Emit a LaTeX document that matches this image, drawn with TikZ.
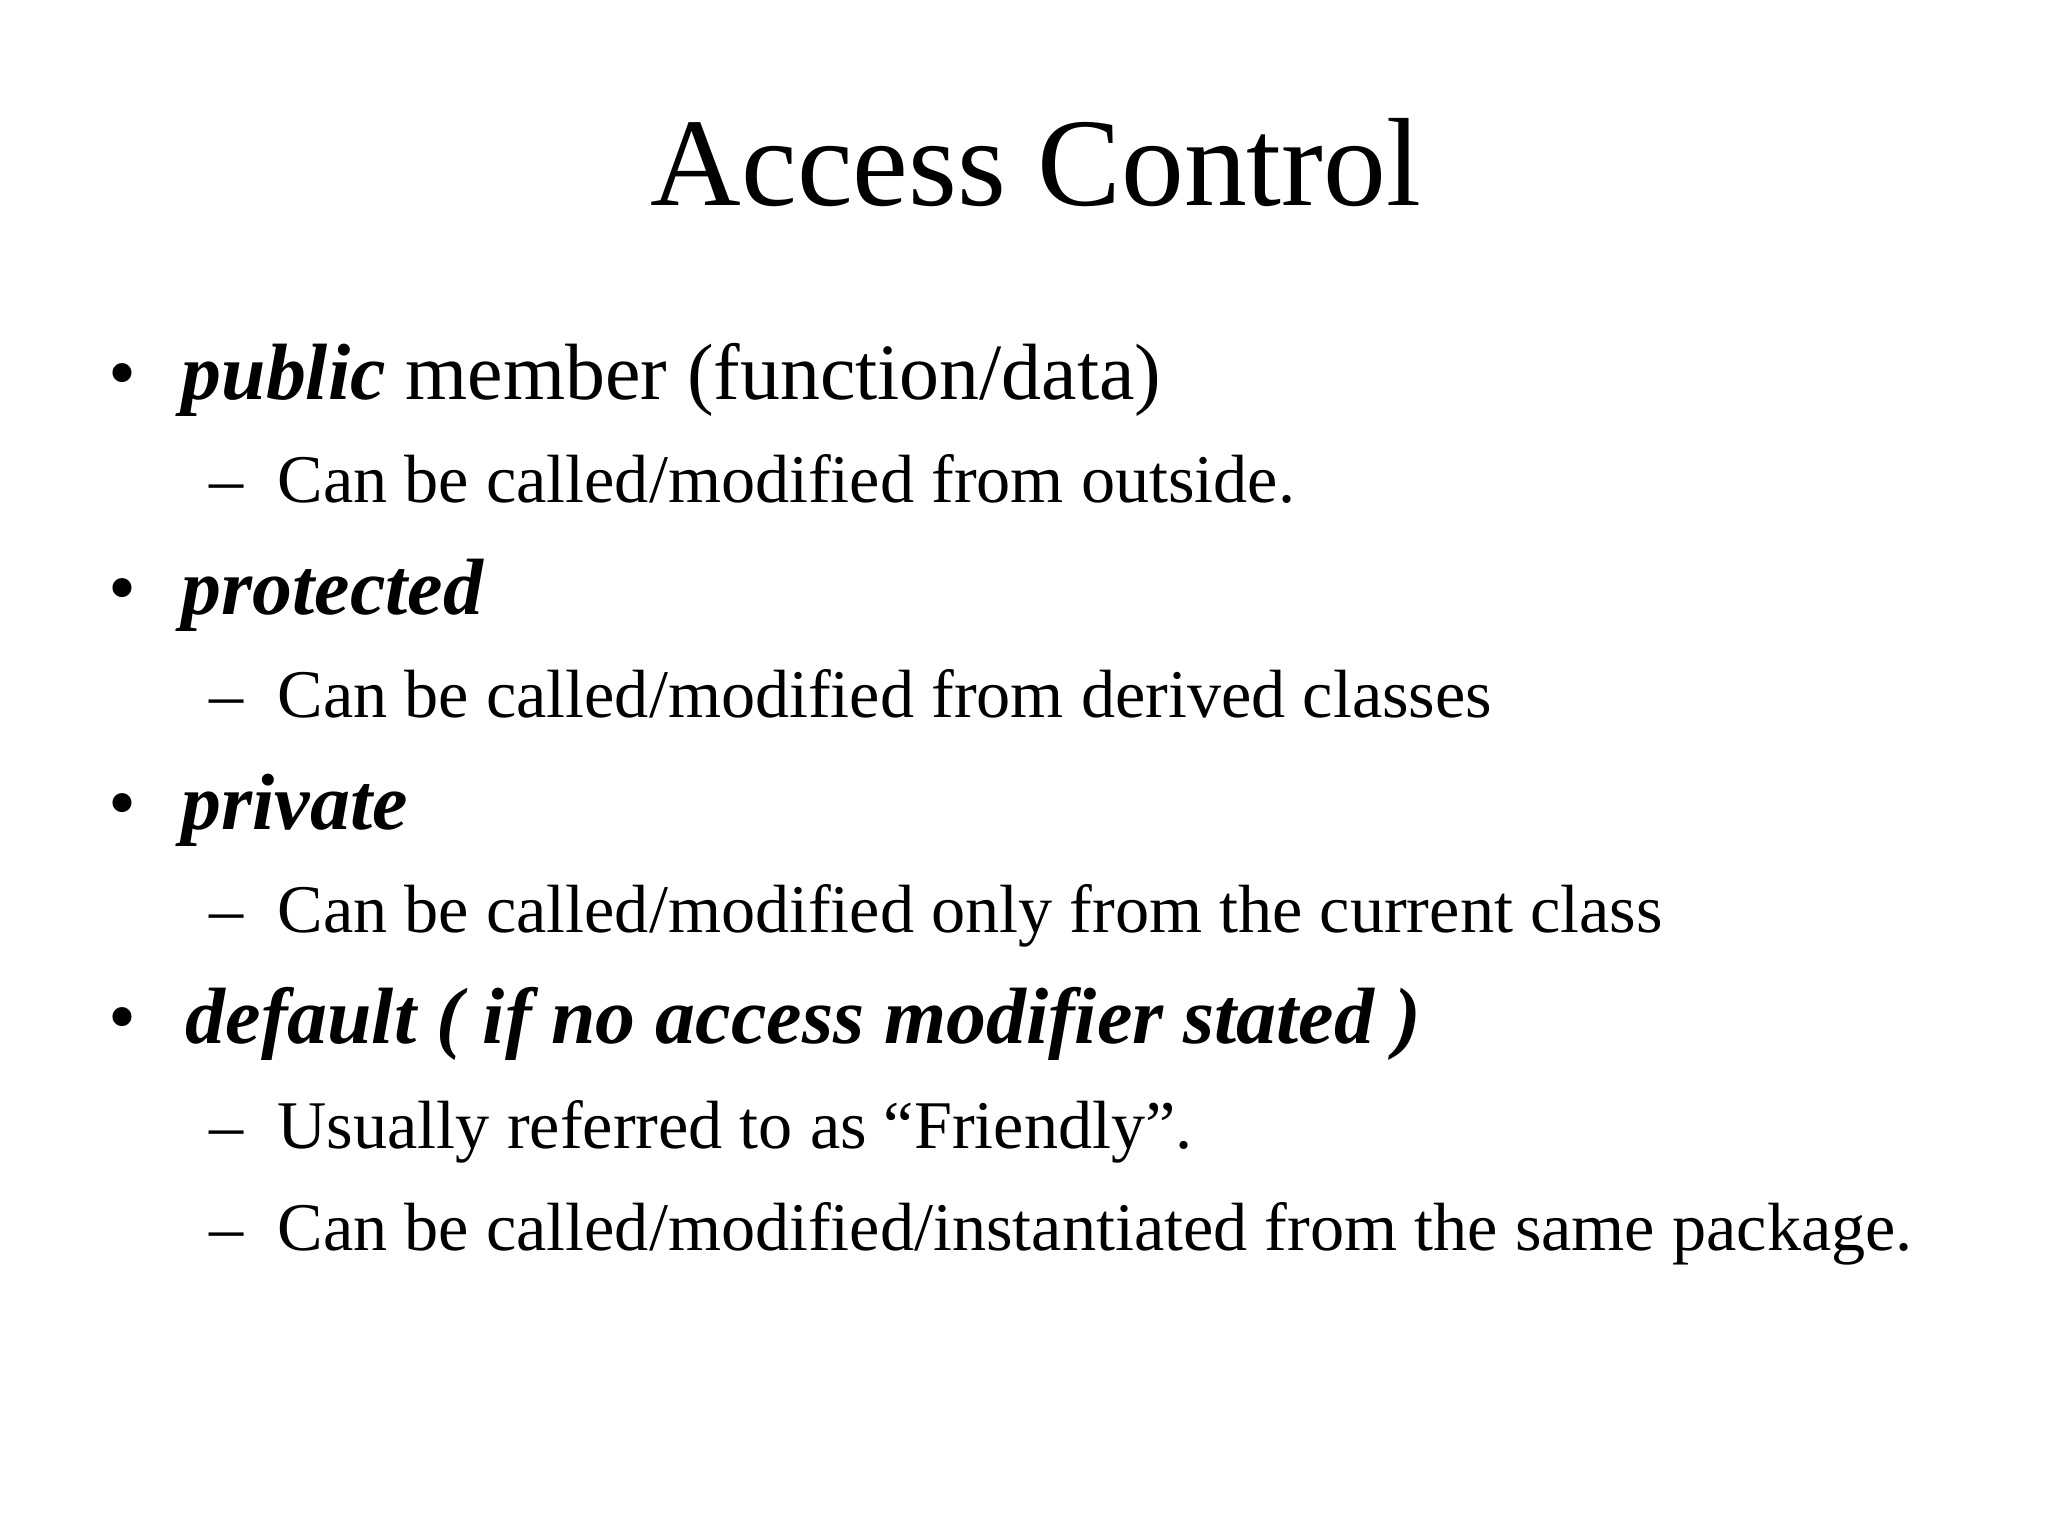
\documentclass[tikz,border=0pt]{standalone}
\usepackage{fontspec}
\setmainfont{Liberation Serif}
\begin{document}
\begin{tikzpicture}[x=0.01cm,y=-0.01cm,
  lone/.style={anchor=base west,inner sep=0pt,font=\fontsize{22.7}{27}\selectfont},
  ltwo/.style={anchor=base west,inner sep=0pt,font=\fontsize{19.4}{23}\selectfont}]
\useasboundingbox[fill=white] (0,0) rectangle (2048,1536);
\node[anchor=base,inner sep=0pt,font=\fontsize{35.7}{42}\selectfont] (title) at (1036,205) {Access Control};
\node[lone] (b1) at (108,399) {•};
\node[lone] (t1) at (181,399) {\textbf{\textit{public}} member (function/data)};
\node[ltwo] (d1) at (209,502) {–};
\node[ltwo] (s1) at (277,502) {Can be called/modified from outside.};
\node[lone] (b2) at (108,614) {•};
\node[lone] (t2) at (181,614) {\textbf{\textit{protected}}};
\node[ltwo] (d2) at (209,717) {–};
\node[ltwo] (s2) at (277,717) {Can be called/modified from derived classes};
\node[lone] (b3) at (108,829) {•};
\node[lone] (t3) at (181,829) {\textbf{\textit{private}}};
\node[ltwo] (d3) at (209,932) {–};
\node[ltwo] (s3) at (277,932) {Can be called/modified only from the current class};
\node[lone] (b4) at (108,1043) {•};
\node[lone] (t4) at (185,1043) {\textbf{\textit{default ( if no access modifier stated )}}};
\node[ltwo] (d4) at (209,1148) {–};
\node[ltwo] (s4) at (277,1148) {Usually referred to as “Friendly”.};
\node[ltwo] (d5) at (209,1250) {–};
\node[ltwo] (s5) at (277,1250) {Can be called/modified/instantiated from the same package.};
\end{tikzpicture}
\end{document}
